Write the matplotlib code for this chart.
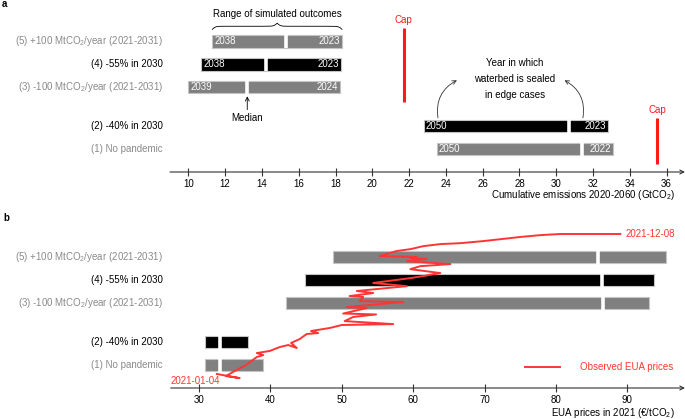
import numpy as np
import matplotlib
matplotlib.use("Agg")
import matplotlib.pyplot as plt
from matplotlib import transforms

plt.rcParams['font.family'] = ['Liberation Sans', 'DejaVu Sans']
plt.rcParams['font.size'] = 7
plt.rcParams['mathtext.default'] = 'regular'

# scenarios, bottom to top
rows = ['(1) No pandemic', '(2) -40% in 2030', '(3) -100 MtCO$_2$/year (2021-2031)',
        '(4) -55% in 2030', '(5) +100 MtCO$_2$/year (2021-2031)']
row_pos = [0, 1, 2.7, 3.7, 4.7]
label_colors = ['#8a8a8a', 'black', '#8a8a8a', 'black', '#8a8a8a']
bar_colors = ['#808080', 'black', '#808080', 'black', '#808080']

# panel a: cumulative emissions (GtCO2)
emis_low = [23.5, 22.8, 10.0, 10.7, 11.3]
emis_med = [31.4, 30.7, 13.2, 14.2, 15.3]
emis_high = [33.1, 32.8, 18.25, 18.3, 18.35]
year_low = ['2050', '2050', '2039', '2038', '2038']
year_high = ['2022', '2023', '2024', '2023', '2023']
caps = [21.7, 35.5]

# panel b: EUA prices in 2021 (EUR/tCO2)
price_low = [30.8, 30.8, 42.2, 44.9, 48.8]
price_med = [32.95, 33.0, 86.55, 86.5, 85.9]
price_high = [39.0, 36.9, 93.0, 93.7, 95.4]

# observed EUA prices through 2021 (price, position on the row scale)
eua_price = [32.5, 35.7, 33.8, 35.0, 36.6, 38.1, 39.0, 38.1, 39.9, 41.3, 42.5, 43.7, 42.9,
             44.1, 45.1, 46.7, 45.7, 48.3, 50.0, 57.2, 50.4, 51.6, 54.8, 50.2, 53.5, 50.7,
             58.6, 52.5, 53.0, 51.1, 54.4, 52.1, 59.1, 54.4, 59.6, 61.4, 63.8, 59.6, 61.0,
             65.2, 63.3, 59.1, 61.9, 59.6, 60.5, 55.3, 57.7, 59.6, 61.4, 63.8, 66.6, 69.8,
             75.0, 77.8, 80.6, 89.0]
eua_pos = [-0.39, -0.57, -0.48, -0.26, 0.0, 0.35, 0.43, 0.52, 0.61, 0.78, 0.87, 0.74, 0.96,
           1.13, 1.35, 1.39, 1.48, 1.61, 1.74, 1.78, 1.91, 2.09, 2.2, 2.24, 2.48, 2.52,
           2.74, 2.78, 2.96, 3.0, 3.13, 3.22, 3.43, 3.57, 3.78, 3.87, 4.0, 4.17, 4.3,
           4.39, 4.43, 4.52, 4.61, 4.65, 4.70, 4.74, 4.96, 5.04, 5.17, 5.26, 5.30, 5.39,
           5.57, 5.65, 5.70, 5.70]

W, H = 685, 419
fig = plt.figure(figsize=(W / 100, H / 100), dpi=100)
ax_a = fig.add_axes([170 / W, 1 - 172 / H, 515 / W, 172 / H])
ax_b = fig.add_axes([170.7 / W, 1 - 388 / H, (W - 170.7) / W, 177 / H])


def style_axis(ax, xmin, xmax, ymax, ticks):
    ax.set_xlim(xmin, xmax)
    ax.set_ylim(-1, ymax)
    for s in ax.spines.values():
        s.set_visible(False)
    ax.set_yticks([])
    ax.set_xticks(ticks)
    ax.tick_params(axis='x', direction='inout', length=6, width=0.8, color='#333333',
                   pad=2, labelsize=7)
    ax.annotate('', xy=(xmax, -1), xytext=(xmin, -1),
                arrowprops=dict(arrowstyle='->', lw=0.8, color='#333333',
                                shrinkA=0, shrinkB=0), annotation_clip=False)
    trans = transforms.blended_transform_factory(fig.transFigure, ax.transData)
    for i in range(5):
        ax.text(163 / W, row_pos[i], rows[i], transform=trans, ha='right', va='center',
                color=label_colors[i], fontsize=7)


def draw_bars(ax, low, med, high):
    for i in range(5):
        ax.barh(row_pos[i], high[i] - low[i], left=low[i], height=0.55, color=bar_colors[i],
                edgecolor='#c4c4c4', linewidth=0.8, zorder=2)
        ax.vlines(med[i], row_pos[i] - 0.3, row_pos[i] + 0.3, color='white', lw=2.6, zorder=3)


# ---- panel a ----
style_axis(ax_a, 9, 37, 6.5, np.arange(10, 37, 2))
draw_bars(ax_a, emis_low, emis_med, emis_high)
for i in range(5):
    ax_a.annotate(year_low[i], (emis_low[i], row_pos[i]), xytext=(1.5, 0),
                  textcoords='offset points', ha='left', va='center', color='white', zorder=4)
    ax_a.annotate(year_high[i], (emis_high[i], row_pos[i]), xytext=(-1.5, 0),
                  textcoords='offset points', ha='right', va='center', color='white', zorder=4)

ax_a.vlines(caps[0], 2.04, 5.3, color='#ff1a1a', lw=2.2)
ax_a.text(caps[0], 5.42, 'Cap', color='#ff1a1a', ha='center', va='bottom', fontsize=7)
ax_a.vlines(caps[1], -0.65, 1.35, color='#ff1a1a', lw=2.2)
ax_a.text(caps[1], 1.47, 'Cap', color='#ff1a1a', ha='center', va='bottom', fontsize=7)

# brace over range of simulated outcomes
x0, x1 = emis_low[4], emis_high[4]
u = np.linspace(0, 1, 200)
half = 1 / (1 + np.exp(-40 * u)) + 1 / (1 + np.exp(-40 * (u - 1))) - 0.5
bx = np.concatenate([x0 + u * (x1 - x0) / 2, x1 - u[::-1] * (x1 - x0) / 2])
by = 5.22 + 0.27 * np.concatenate([half, half[::-1]])
ax_a.plot(bx, by, color='black', lw=0.6, clip_on=False)
ax_a.text((x0 + x1) / 2, 5.87, 'Range of simulated outcomes', ha='center', va='center')

ax_a.text(emis_med[2], 1.35, 'Median', ha='center', va='center')
ax_a.annotate('', xy=(emis_med[2], 2.3), xytext=(emis_med[2], 1.72),
              arrowprops=dict(arrowstyle='->', lw=0.6, color='black', shrinkA=0, shrinkB=0))

ax_a.text(27.75, 3.04, 'Year in which\nwaterbed is sealed\nin edge cases', ha='center',
          va='center', linespacing=1.75)
ax_a.annotate('', xy=(24.6, 3.0), xytext=(23.57, 1.36),
              arrowprops=dict(arrowstyle='->', lw=0.6, color='#333333', shrinkA=0, shrinkB=0,
                              connectionstyle='arc3,rad=-0.35'))
ax_a.annotate('', xy=(30.45, 3.0), xytext=(31.45, 1.36),
              arrowprops=dict(arrowstyle='->', lw=0.6, color='#333333', shrinkA=0, shrinkB=0,
                              connectionstyle='arc3,rad=0.35'))

fig.text(675 / W, 1 - 195 / H, 'Cumulative emissions 2020-2060 (GtCO$_2$)', ha='right',
         va='center', fontsize=7)
fig.text(2 / W, 1 - 4 / H, 'a', fontweight='bold', ha='left', va='center', fontsize=7)

# ---- panel b ----
style_axis(ax_b, 26.04, 98.07, 6.7, np.arange(30, 91, 10))
draw_bars(ax_b, price_low, price_med, price_high)
ax_b.plot(eua_price, eua_pos, color='#ff3535', lw=1.4, zorder=5, label='Observed EUA prices')
ax_b.annotate('2021-01-04', (eua_price[0], eua_pos[0]), xytext=(2, -1.5),
              textcoords='offset points', ha='right', va='top', color='#ff3535')
ax_b.annotate('2021-12-08', (eua_price[-1], eua_pos[-1]), xytext=(4, 0),
              textcoords='offset points', ha='left', va='center', color='#ff3535')
ax_b.legend(loc='center right', bbox_to_anchor=(0.977, 0.119), frameon=False, borderpad=0,
            borderaxespad=0, handlelength=3.6, handletextpad=2.0, labelcolor='#ff3535',
            fontsize=7)

fig.text(675 / W, 1 - 413 / H, 'EUA prices in 2021 (€/tCO$_2$)', ha='right', va='center',
         fontsize=7)
fig.text(3 / W, 1 - 218 / H, 'b', fontweight='bold', ha='left', va='center', fontsize=7)

fig.savefig('out.png', dpi=100)
